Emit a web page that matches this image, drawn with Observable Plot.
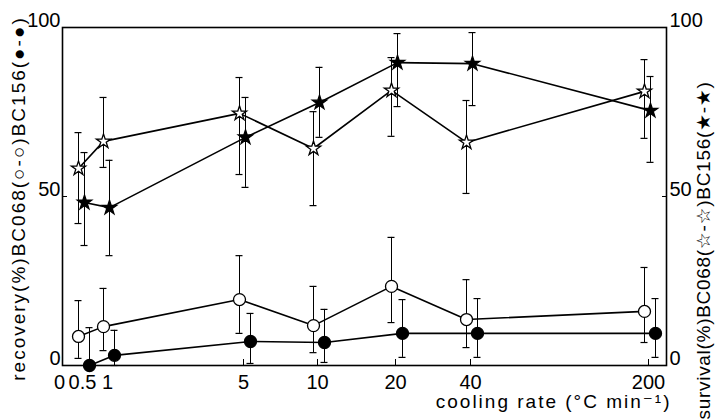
<!DOCTYPE html>
<html><head><meta charset="utf-8">
<script src="https://cdn.jsdelivr.net/npm/d3@7"></script>
<script src="https://cdn.jsdelivr.net/npm/@observablehq/plot@0.6"></script>
<style>
body{margin:0;background:#fff}
svg{font-family:"Liberation Sans","DejaVu Sans",Arial,sans-serif}
</style>
</head><body><div id="chart"></div>
<script>
// cooling rate categories (°C/min)
const coolingRates = [0.5, 1, 5, 10, 20, 40, 200];

// recovery (%) BC068 (open circles)
const recBC068    = [8.6, 11.5, 19.5, 11.8, 23.4, 13.6, 16.0];
const recBC068Hi  = [19.2, 22.8, 32.5, 23.4, 37.9, 25.4, 29.0];
const recBC068Lo  = [2.1, 4.4, 9.5, 3.8, 12.7, 5.3, 6.8];

// recovery (%) BC156 (filled circles)
const recBC156    = [0, 3.0, 7.1, 6.8, 9.5, 9.5, 9.5];
const recBC156Hi  = [11.2, 10.4, 15.4, 16.6, 19.5, 19.8, 19.8];
const recBC156Lo  = [0, 0, 0.6, 0.9, 2.4, 2.4, 2.4];

// survival (%) BC068 (open stars)
const survBC068   = [58.3, 66.3, 74.6, 64.2, 81.4, 66.0, 81.1];
const survBC068Hi = [68.9, 79.3, 85.2, 75.1, 91.1, 78.4, 90.5];
const survBC068Lo = [42.0, 58.6, 56.5, 47.3, 67.8, 50.9, 67.2];

// survival (%) BC156 (filled stars)
const survBC156   = [48.2, 46.7, 67.5, 77.8, 89.6, 89.3, 75.4];
const survBC156Hi = [63.0, 60.7, 79.3, 88.2, 98.2, 98.5, 85.5];
const survBC156Lo = [35.5, 32.5, 52.7, 67.5, 76.6, 76.9, 60.1];

// axis ticks
const xTickValues = [0, 0.5, 1, 5, 10, 20, 40, 200];
const xTickLabels = ["0", "0.5", "1", "5", "10", "20", "40", "200"];
const xTickMarks  = [5, 10, 20, 40, 200];
const yTickValues = [0, 50, 100];

const leftTitle   = "recovery(%)BC068(○-○)BC156(●-●)";
const rightTitle  = "survival(%)BC068(☆-☆)BC156(★-★)";
const bottomTitle = "cooling rate (°C min⁻¹)";

const rows = (v, lo, hi) => coolingRates.map((x, i) => ({x, y: v[i], lo: lo[i], hi: hi[i]}));

const series = [
  {data: rows(recBC068, recBC068Lo, recBC068Hi), dx: -4, symbol: "circle", r: 6, fill: "white"},
  {data: rows(recBC156, recBC156Lo, recBC156Hi), dx: 7, symbol: "circle", r: 6, fill: "black"},
  {data: rows(survBC068, survBC068Lo, survBC068Hi), dx: -4, symbol: "star", r: 4.5, fill: "white"},
  {data: rows(survBC156, survBC156Lo, survBC156Hi), dx: 2, symbol: "star", r: 4.5, fill: "black"}
];

const marks = [];
for (const s of series) {
  marks.push(Plot.ruleX(s.data, {x: "x", y1: "lo", y2: "hi", dx: s.dx, stroke: "black", strokeWidth: 1}));
  marks.push(Plot.ruleY(s.data, {y: "lo", x1: "x", x2: "x", dx: s.dx, insetLeft: -3.5, insetRight: -3.5, stroke: "black", strokeWidth: 1.2}));
  marks.push(Plot.ruleY(s.data, {y: "hi", x1: "x", x2: "x", dx: s.dx, insetLeft: -3.5, insetRight: -3.5, stroke: "black", strokeWidth: 1.2}));
  marks.push(Plot.line(s.data, {x: "x", y: "y", dx: s.dx, stroke: "black", strokeWidth: 1.6}));
}
for (const s of series) {
  marks.push(Plot.dot(s.data, {x: "x", y: "y", dx: s.dx, symbol: s.symbol, r: s.r, fill: s.fill, stroke: "black", strokeWidth: 1.3}));
}

const chart = Plot.plot({
  width: 718,
  height: 419,
  marginLeft: 62,
  marginRight: 52,
  marginTop: 27,
  marginBottom: 54,
  style: {background: "white", color: "black"},
  x: {type: "linear", domain: xTickValues, range: [59, 82, 107, 243, 317, 395, 470, 648]},
  y: {domain: [0, 100]},
  marks: [
    ...marks,
    Plot.frame({stroke: "black", strokeWidth: 1.6}),
    Plot.axisX({ticks: xTickValues, tickFormat: d => xTickLabels[xTickValues.indexOf(d)], tickSize: 0, tickPadding: 9, fontSize: 20, label: null}),
    Plot.axisX({ticks: xTickMarks, tickSize: -6, tickFormat: () => "", label: null}),
    Plot.axisY({anchor: "left", ticks: yTickValues, tickSize: 0, tickPadding: 2, dy: -7, fontSize: 20, label: null}),
    Plot.axisY({anchor: "left", ticks: yTickValues, tickSize: -5, tickFormat: () => "", label: null}),
    Plot.axisY({anchor: "right", ticks: yTickValues, tickSize: 0, tickPadding: 3, dy: -7, fontSize: 20, label: null}),
    Plot.axisY({anchor: "right", ticks: yTickValues, tickSize: -5, tickFormat: () => "", label: null}),
    Plot.text([leftTitle], {text: d => d, frameAnchor: "left", textAnchor: "middle", lineAnchor: "middle", rotate: -90, dx: -44, dy: 2, fontSize: 19, fill: "black"}),
    Plot.text([rightTitle], {text: d => d, frameAnchor: "right", textAnchor: "middle", lineAnchor: "middle", rotate: -90, dx: 37, dy: 54, fontSize: 19, fill: "black"}),
    Plot.text([bottomTitle], {text: d => d, frameAnchor: "bottom-right", textAnchor: "end", dx: 5, dy: 42, fontSize: 19, fill: "black"})
  ]
});
document.getElementById("chart").appendChild(chart);
const spacing = {[leftTitle]: "2px", [rightTitle]: "0.7px", [bottomTitle]: "2px"};
d3.select(chart).selectAll('g[aria-label="text"] text').each(function() {
  const t = this.textContent;
  if (spacing[t]) this.style.letterSpacing = spacing[t];
});
</script>
</body></html>
